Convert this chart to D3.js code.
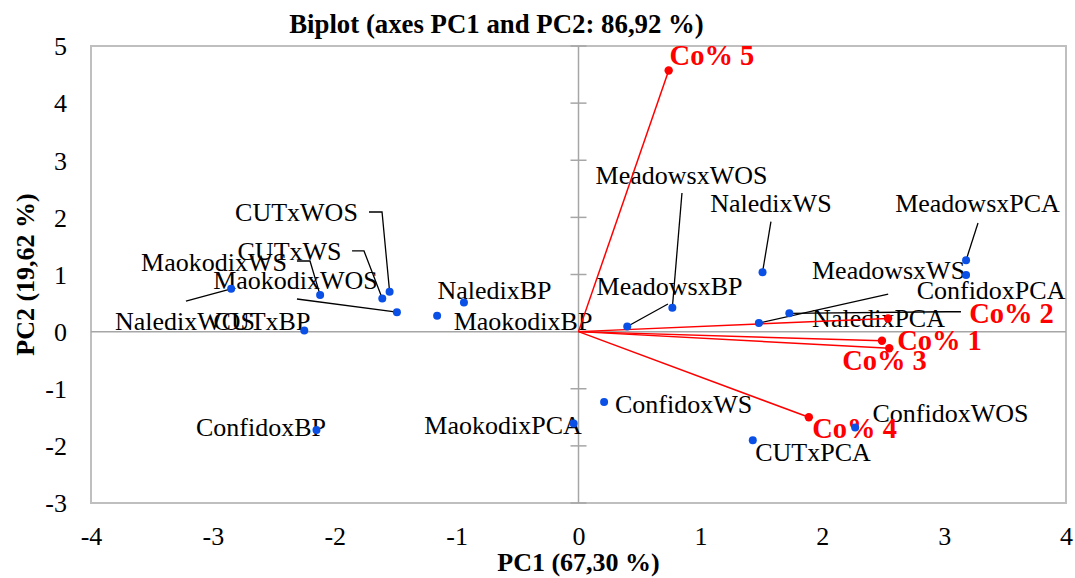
<!DOCTYPE html>
<html>
<head>
<meta charset="utf-8">
<script src="https://cdn.jsdelivr.net/npm/d3@7"></script>
<style>
  html, body { margin: 0; padding: 0; background: #fff; }
  svg { display: block; }
  text { font-family: "Liberation Serif", "Times New Roman", serif; }
</style>
</head>
<body>
<svg id="chart" width="1075" height="578"></svg>
<script>
// Observations: genotype x treatment scores on PC1 / PC2
const obsNames = [
  "CUTxWOS", "CUTxWS", "CUTxBP", "CUTxPCA",
  "MaokodixWS", "MaokodixWOS", "MaokodixBP", "MaokodixPCA",
  "NaledixWOS", "NaledixBP", "NaledixWS", "NaledixPCA",
  "MeadowsxWOS", "MeadowsxBP", "MeadowsxPCA", "MeadowsxWS",
  "ConfidoxPCA", "ConfidoxWS", "ConfidoxBP", "ConfidoxWOS"
];
const obsPC1 = [
  -1.55, -1.61, -2.25, 1.43,
  -2.12, -1.49, -1.16, -0.04,
  -2.85, -0.94, 1.51, 1.73,
  0.77, 0.40, 3.18, 1.48,
  3.18, 0.21, -2.15, 2.27
];
const obsPC2 = [
  0.70, 0.58, 0.02, -1.90,
  0.64, 0.34, 0.28, -1.61,
  0.75, 0.51, 1.04, 0.32,
  0.42, 0.09, 1.25, 0.15,
  0.99, -1.23, -1.72, -1.68
];

// Variables: loadings drawn as vectors from the origin
const varNames = ["Co% 1", "Co% 2", "Co% 3", "Co% 4", "Co% 5"];
const varPC1 = [2.49, 2.54, 2.55, 1.89, 0.74];
const varPC2 = [-0.16, 0.23, -0.29, -1.50, 4.57];

// Axis ticks
const xTicks = [-4, -3, -2, -1, 0, 1, 2, 3, 4];
const yTicks = [-3, -2, -1, 0, 1, 2, 3, 4, 5];

// Label placement (label centre and optional leader-line bends, in axis units)
const obsLabelPos = {
  "CUTxWOS":     { at: [-2.314, 2.094], leader: [[-1.719, 2.094], [-1.612, 2.094]] },
  "CUTxWS":      { at: [-2.371, 1.412], leader: [[-1.858, 1.412], [-1.760, 1.412]] },
  "CUTxBP":      { at: [-2.597, 0.186] },
  "CUTxPCA":     { at: [1.924, -2.108] },
  "MaokodixWS":  { at: [-2.991, 1.219], leader: [[-2.310, 1.236], [-2.203, 1.236]] },
  "MaokodixWOS": { at: [-2.322, 0.903], leader: [[-2.310, 0.571]] },
  "MaokodixBP":  { at: [-0.455, 0.186] },
  "MaokodixPCA": { at: [-0.619, -1.635] },
  "NaledixWOS":  { at: [-3.229, 0.186], leader: [[-3.221, 0.536]] },
  "NaledixBP":   { at: [-0.689, 0.728] },
  "NaledixWS":   { at: [1.579, 2.251], leader: [[1.579, 1.924]] },
  "NaledixPCA":  { at: [2.462, 0.238], leader: [[3.138, 0.348], [3.015, 0.348]] },
  "MeadowsxWOS": { at: [0.845, 2.741], leader: [[0.849, 2.427]] },
  "MeadowsxBP":  { at: [0.747, 0.798], leader: [[0.734, 0.483]] },
  "MeadowsxPCA": { at: [3.274, 2.251], leader: [[3.278, 1.901]] },
  "MeadowsxWS":  { at: [2.544, 1.078], leader: [[2.541, 0.657]] },
  "ConfidoxPCA": { at: [3.385, 0.728] },
  "ConfidoxWS":  { at: [0.862, -1.267] },
  "ConfidoxBP":  { at: [-2.605, -1.670] },
  "ConfidoxWOS": { at: [3.052, -1.425] }
};
const varLabelPos = {
  "Co% 1": [2.962, -0.147],
  "Co% 2": [3.553, 0.326],
  "Co% 3": [2.511, -0.497],
  "Co% 4": [2.265, -1.687],
  "Co% 5": [1.095, 4.842]
};

const svg = d3.select("#chart");
const plotLeft = 91, plotRight = 1066, plotTop = 46, plotBottom = 503;

const x = d3.scaleLinear().domain([-4, 4]).range([plotLeft, plotRight]);
const y = d3.scaleLinear().domain([-3, 5]).range([plotBottom, plotTop]);

// Plot frame
svg.append("rect")
  .attr("x", plotLeft).attr("y", plotTop)
  .attr("width", plotRight - plotLeft).attr("height", plotBottom - plotTop)
  .attr("fill", "none").attr("stroke", "#bfbfbf").attr("stroke-width", 2);

// Tick labels (plain hyphen for negatives)
const tickFmt = d => String(d);
const yAxis = svg.append("g")
  .attr("transform", `translate(${plotLeft},0)`)
  .call(d3.axisLeft(y).tickValues(yTicks).tickSize(0).tickPadding(24).tickFormat(tickFmt));
const xAxis = svg.append("g")
  .attr("transform", `translate(0,${plotBottom})`)
  .call(d3.axisBottom(x).tickValues(xTicks).tickSize(0).tickPadding(24).tickFormat(tickFmt));
[xAxis, yAxis].forEach(g => {
  g.select(".domain").remove();
  g.selectAll("text")
    .attr("font-family", "'Liberation Serif', 'Times New Roman', serif")
    .attr("font-size", 26).attr("fill", "#000");
});
yAxis.selectAll("text").attr("dy", "0.34em");

// Axes through the origin
svg.append("line")
  .attr("x1", x(-4)).attr("x2", x(4)).attr("y1", y(0)).attr("y2", y(0))
  .attr("stroke", "#a6a6a6").attr("stroke-width", 1.5);
svg.append("line")
  .attr("x1", x(0)).attr("x2", x(0)).attr("y1", y(5)).attr("y2", y(-3))
  .attr("stroke", "#a6a6a6").attr("stroke-width", 1.5);
svg.append("g").selectAll("line")
  .data(yTicks)
  .join("line")
  .attr("x1", x(0) - 8).attr("x2", x(0) + 8)
  .attr("y1", d => y(d)).attr("y2", d => y(d))
  .attr("stroke", "#a6a6a6").attr("stroke-width", 1.5);

// Observation table
const obs = obsNames.map((n, i) => ({ name: n, pc1: obsPC1[i], pc2: obsPC2[i] }));
const vars = varNames.map((n, i) => ({ name: n, pc1: varPC1[i], pc2: varPC2[i] }));

// Observation labels
svg.append("g").selectAll("text")
  .data(obs)
  .join("text")
  .attr("x", d => x(obsLabelPos[d.name].at[0]))
  .attr("y", d => y(obsLabelPos[d.name].at[1]))
  .attr("dy", "0.34em")
  .attr("text-anchor", "middle")
  .attr("font-size", 26)
  .attr("fill", "#000")
  .text(d => d.name);

// Leader lines from labels to their points
const line = d3.line().x(p => x(p[0])).y(p => y(p[1]));
svg.append("g").selectAll("path")
  .data(obs.filter(d => obsLabelPos[d.name].leader))
  .join("path")
  .attr("d", d => line([...obsLabelPos[d.name].leader, [d.pc1, d.pc2]]))
  .attr("fill", "none").attr("stroke", "#000").attr("stroke-width", 1.3);

// Variable vectors
const vg = svg.append("g");
vg.selectAll("line")
  .data(vars)
  .join("line")
  .attr("x1", x(0)).attr("y1", y(0))
  .attr("x2", d => x(d.pc1)).attr("y2", d => y(d.pc2))
  .attr("stroke", "#ff0000").attr("stroke-width", 1.5);
vg.selectAll("circle")
  .data(vars)
  .join("circle")
  .attr("cx", d => x(d.pc1)).attr("cy", d => y(d.pc2))
  .attr("r", 4.2).attr("fill", "#ff0000");
vg.selectAll("text")
  .data(vars)
  .join("text")
  .attr("x", d => x(varLabelPos[d.name][0]))
  .attr("y", d => y(varLabelPos[d.name][1]))
  .attr("dy", "0.34em")
  .attr("text-anchor", "middle")
  .attr("font-size", 28.5).attr("font-weight", "bold")
  .attr("fill", "#ff0000")
  .text(d => d.name);

// Observation points
svg.append("g").selectAll("circle")
  .data(obs)
  .join("circle")
  .attr("cx", d => x(d.pc1)).attr("cy", d => y(d.pc2))
  .attr("r", 4).attr("fill", "#0a4fe6");

// Titles
svg.append("text")
  .attr("x", 496.5).attr("y", 24).attr("dy", "0.34em")
  .attr("text-anchor", "middle").attr("font-size", 26.8).attr("font-weight", "bold")
  .text("Biplot (axes PC1 and PC2: 86,92 %)");
svg.append("text")
  .attr("x", x(0)).attr("y", 562).attr("dy", "0.34em")
  .attr("text-anchor", "middle").attr("font-size", 26).attr("font-weight", "bold")
  .text("PC1 (67,30 %)");
svg.append("text")
  .attr("transform", `translate(25,${(plotTop + plotBottom) / 2}) rotate(-90)`)
  .attr("dy", "0.34em")
  .attr("text-anchor", "middle").attr("font-size", 26).attr("font-weight", "bold")
  .text("PC2 (19,62 %)");
</script>
</body>
</html>
